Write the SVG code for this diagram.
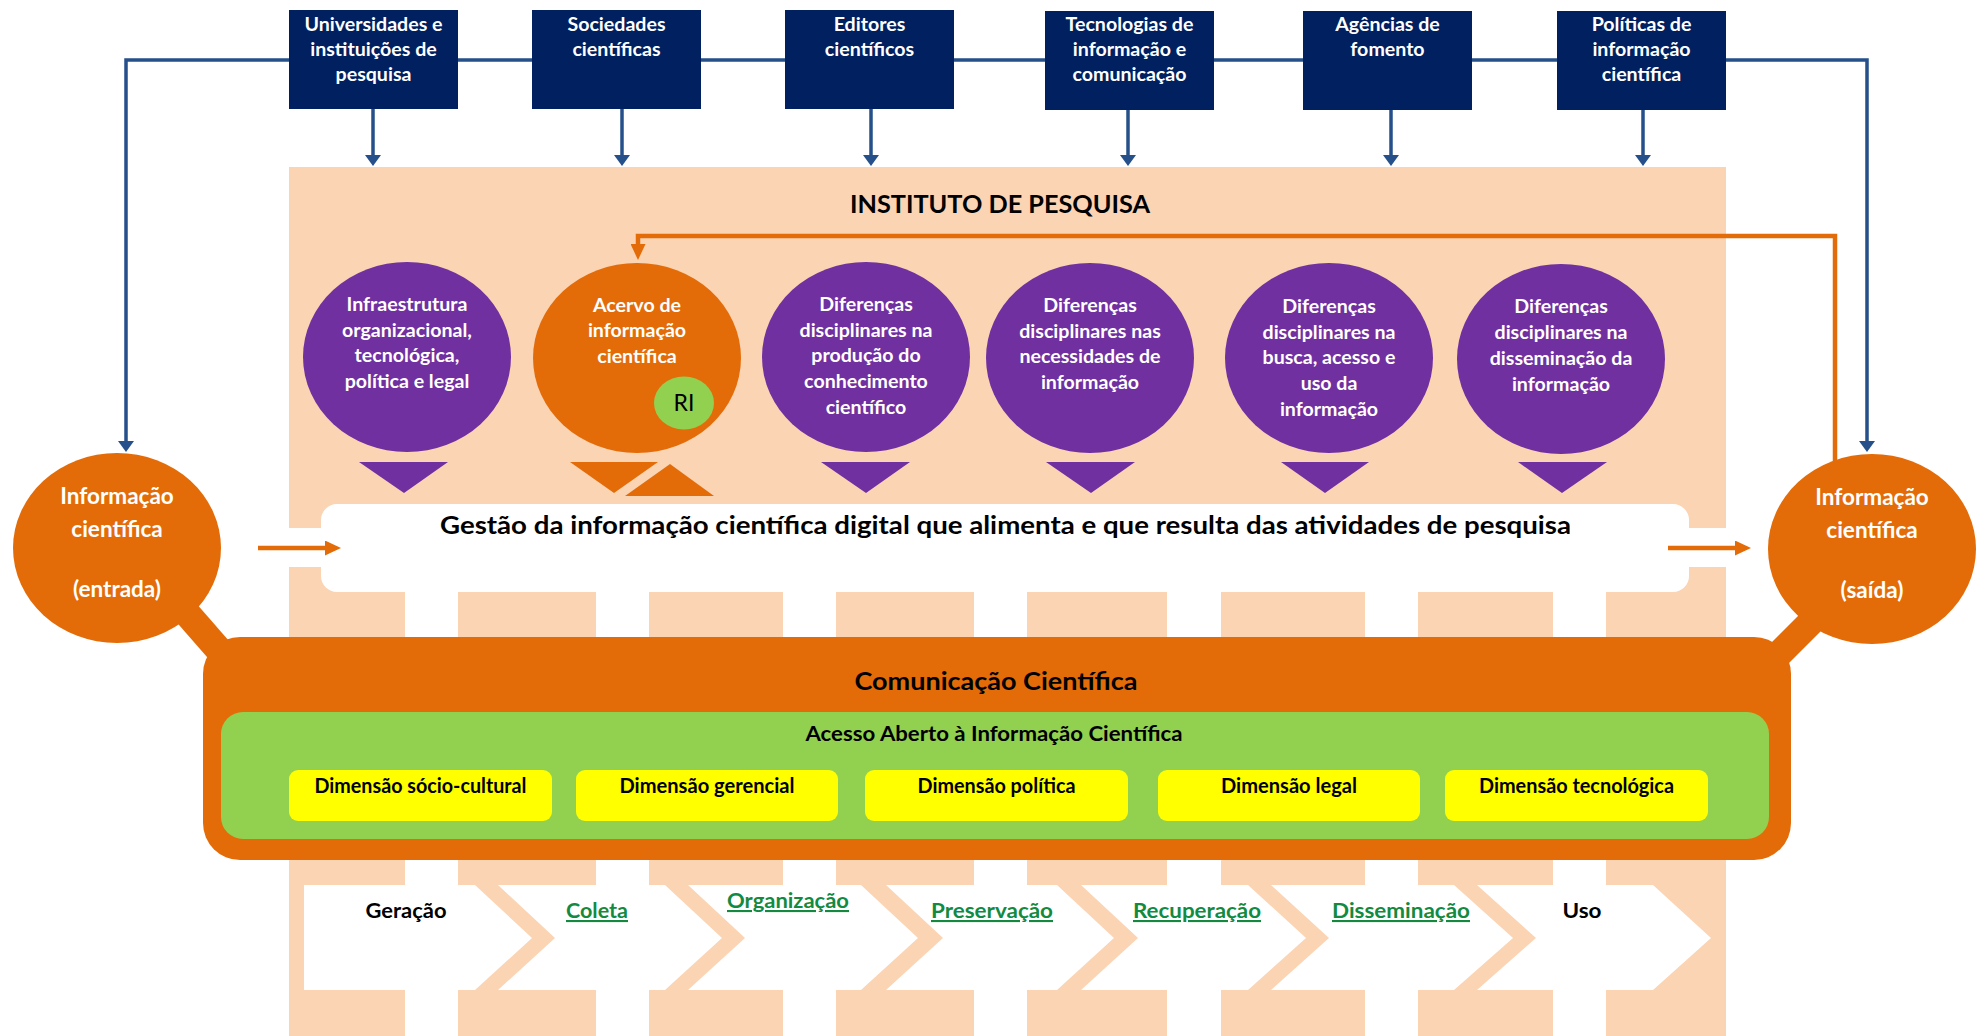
<svg xmlns="http://www.w3.org/2000/svg" width="1977" height="1036" viewBox="0 0 1977 1036">
<defs>
<style>
text{font-family:Lato,'Liberation Sans',sans-serif;font-weight:700;text-anchor:middle}
.peach{fill:#FBD4B4}
.navyBox{fill:#002060}
.purple{fill:#7030A0}
.orange{fill:#E36C09}
.wtxt{fill:#fff;font-size:19.6px}
.btxt{fill:#000}
.nav{fill:none;stroke:#25508A;stroke-width:3.5}
.org{fill:none;stroke:#E36C09;stroke-width:4.5}
.stem{fill:none;stroke:#E36C09;stroke-width:27}
.dim{fill:#FFFF00}
.dtxt{fill:#000;font-size:20px}
.step{fill:#000;font-size:21px}
.link{fill:#138A3F;font-size:21px;text-decoration:underline}
</style>
<marker id="navArrow" viewBox="0 0 11 16" markerWidth="11" markerHeight="16" refX="5" refY="8" orient="auto-start-reverse" markerUnits="userSpaceOnUse">
<path d="M0,0 L11,8 L0,16 z" fill="#25508A"/>
</marker>
<marker id="orgArrow" viewBox="0 0 16 15" markerWidth="16" markerHeight="15" refX="10" refY="7.5" orient="auto" markerUnits="userSpaceOnUse">
<path d="M0,0 L16,7.5 L0,15 z" fill="#E36C09"/>
</marker>
</defs>
<rect width="1977" height="1036" fill="#fff"/>

<g id="instituto">
<rect class="peach" x="289" y="167" width="1437" height="869"/>
<g fill="#fff">
<rect x="405" y="592" width="53" height="444"/>
<rect x="596" y="592" width="53" height="444"/>
<rect x="783" y="592" width="53" height="444"/>
<rect x="974" y="592" width="53" height="444"/>
<rect x="1167" y="592" width="54" height="444"/>
<rect x="1365" y="592" width="53" height="444"/>
<rect x="1553" y="592" width="53" height="444"/>
<rect x="285" y="528" width="40" height="39"/>
<rect x="1685" y="528" width="45" height="39"/>
</g>
<text x="1000" y="213" class="btxt" style="font-size:25px" textLength="300" lengthAdjust="spacingAndGlyphs">INSTITUTO DE PESQUISA</text>
</g>

<g id="ciclo">
<polygon points="304,885 1653,885 1711,938 1653,990 304,990" fill="#fff"/>
<g class="peach">
<polygon points="475,885 498,885 555,938 498,990 475,990 532,938"/>
<polygon points="665,885 688,885 745,938 688,990 665,990 722,938"/>
<polygon points="861,885 886,885 943,938 886,990 861,990 918,938"/>
<polygon points="1057,885 1081,885 1138,938 1081,990 1057,990 1114,938"/>
<polygon points="1248,885 1271,885 1329,938 1271,990 1248,990 1306,938"/>
<polygon points="1454,885 1477,885 1536,938 1477,990 1454,990 1513,938"/>
</g>
<text x="406" y="918" class="step" textLength="81" lengthAdjust="spacingAndGlyphs">Geração</text>
<text x="597" y="918" class="link" textLength="62" lengthAdjust="spacingAndGlyphs">Coleta</text>
<text x="788" y="908" class="link" textLength="122" lengthAdjust="spacingAndGlyphs">Organização</text>
<text x="992" y="918" class="link" textLength="122" lengthAdjust="spacingAndGlyphs">Preservação</text>
<text x="1197" y="918" class="link" textLength="128" lengthAdjust="spacingAndGlyphs">Recuperação</text>
<text x="1401" y="918" class="link" textLength="138" lengthAdjust="spacingAndGlyphs">Disseminação</text>
<text x="1582" y="918" class="step" textLength="39" lengthAdjust="spacingAndGlyphs">Uso</text>
</g>

<g id="gestao">
<rect x="321" y="504" width="1368" height="88" rx="16" fill="#fff"/>
<text x="1005.5" y="534" class="btxt" style="font-size:24.5px" textLength="1131" lengthAdjust="spacingAndGlyphs">Gestão da informação científica digital que alimenta e que resulta das atividades de pesquisa</text>
</g>

<g id="infraestrutura">
<ellipse class="purple" cx="407" cy="357" rx="104" ry="95"/>
<polygon class="purple" points="359,462 448,462 404,493"/>
<text class="wtxt"><tspan x="407" y="311">Infraestrutura</tspan><tspan x="407" y="337">organizacional,</tspan><tspan x="407" y="362">tecnológica,</tspan><tspan x="407" y="388">política e legal</tspan></text>
</g>

<g id="acervo">
<ellipse class="orange" cx="637" cy="358" rx="104" ry="95"/>
<polygon class="orange" points="570,462 658,462 614,493"/>
<polygon class="orange" points="625,496 714,496 670,464"/>
<text class="wtxt"><tspan x="637" y="312">Acervo de</tspan><tspan x="637" y="337">informação</tspan><tspan x="637" y="363">científica</tspan></text>
<g id="ri">
<ellipse cx="684" cy="403" rx="30" ry="26.5" fill="#92D050"/>
<text x="684" y="411" style="font-size:23px;font-weight:400;fill:#000">RI</text>
</g>
</g>

<g id="producao">
<ellipse class="purple" cx="866" cy="357" rx="104" ry="95"/>
<polygon class="purple" points="821,462 910,462 866,493"/>
<text class="wtxt"><tspan x="866" y="311">Diferenças</tspan><tspan x="866" y="337">disciplinares na</tspan><tspan x="866" y="362">produção do</tspan><tspan x="866" y="388">conhecimento</tspan><tspan x="866" y="414">científico</tspan></text>
</g>

<g id="necessidades">
<ellipse class="purple" cx="1090" cy="358" rx="104" ry="95"/>
<polygon class="purple" points="1046,462 1135,462 1091,493"/>
<text class="wtxt"><tspan x="1090" y="312">Diferenças</tspan><tspan x="1090" y="338">disciplinares nas</tspan><tspan x="1090" y="363">necessidades de</tspan><tspan x="1090" y="389">informação</tspan></text>
</g>

<g id="busca">
<ellipse class="purple" cx="1329" cy="358" rx="104" ry="95"/>
<polygon class="purple" points="1281,462 1369,462 1325,493"/>
<text class="wtxt"><tspan x="1329" y="313">Diferenças</tspan><tspan x="1329" y="339">disciplinares na</tspan><tspan x="1329" y="364">busca, acesso e</tspan><tspan x="1329" y="390">uso da</tspan><tspan x="1329" y="416">informação</tspan></text>
</g>

<g id="disseminacao">
<ellipse class="purple" cx="1561" cy="359" rx="104" ry="95"/>
<polygon class="purple" points="1518,462 1607,462 1562,493"/>
<text class="wtxt"><tspan x="1561" y="313">Diferenças</tspan><tspan x="1561" y="339">disciplinares na</tspan><tspan x="1561" y="365">disseminação da</tspan><tspan x="1561" y="391">informação</tspan></text>
</g>

<g id="connectors">
<path class="nav" d="M126,446 V60 H1867 V446" marker-start="url(#navArrow)" marker-end="url(#navArrow)"/>
<path class="nav" d="M373,109 V160" marker-end="url(#navArrow)"/>
<path class="nav" d="M622,109 V160" marker-end="url(#navArrow)"/>
<path class="nav" d="M871,109 V160" marker-end="url(#navArrow)"/>
<path class="nav" d="M1128,109 V160" marker-end="url(#navArrow)"/>
<path class="nav" d="M1391,109 V160" marker-end="url(#navArrow)"/>
<path class="nav" d="M1643,109 V160" marker-end="url(#navArrow)"/>
<path class="org" d="M1835,462 V236 H638 V254" marker-end="url(#orgArrow)"/>
<path class="org" d="M258,548 H335" marker-end="url(#orgArrow)"/>
<path class="org" d="M1668,548 H1745" marker-end="url(#orgArrow)"/>
<path class="stem" d="M170,594 L232,665"/>
<path class="stem" d="M1832,601 L1762,671"/>
</g>

<g id="universidades">
<rect class="navyBox" x="289" y="10" width="169" height="99"/>
<text class="wtxt"><tspan x="373.5" y="31">Universidades e</tspan><tspan x="373.5" y="56">instituições de</tspan><tspan x="373.5" y="81">pesquisa</tspan></text>
</g>
<g id="sociedades">
<rect class="navyBox" x="532" y="10" width="169" height="99"/>
<text class="wtxt"><tspan x="616.5" y="31">Sociedades</tspan><tspan x="616.5" y="56">científicas</tspan></text>
</g>
<g id="editores">
<rect class="navyBox" x="785" y="10" width="169" height="99"/>
<text class="wtxt"><tspan x="869.5" y="31">Editores</tspan><tspan x="869.5" y="56">científicos</tspan></text>
</g>
<g id="tecnologias">
<rect class="navyBox" x="1045" y="11" width="169" height="99"/>
<text class="wtxt"><tspan x="1129.5" y="31">Tecnologias de</tspan><tspan x="1129.5" y="56">informação e</tspan><tspan x="1129.5" y="81">comunicação</tspan></text>
</g>
<g id="agencias">
<rect class="navyBox" x="1303" y="11" width="169" height="99"/>
<text class="wtxt"><tspan x="1387.5" y="31">Agências de</tspan><tspan x="1387.5" y="56">fomento</tspan></text>
</g>
<g id="politicas">
<rect class="navyBox" x="1557" y="11" width="169" height="99"/>
<text class="wtxt"><tspan x="1641.5" y="31">Políticas de</tspan><tspan x="1641.5" y="56">informação</tspan><tspan x="1641.5" y="81">científica</tspan></text>
</g>

<g id="entrada">
<ellipse class="orange" cx="117" cy="548" rx="104" ry="95"/>
<text class="wtxt" style="font-size:22.5px"><tspan x="117" y="504">Informação</tspan><tspan x="117" y="537">científica</tspan><tspan x="117" y="597">(entrada)</tspan></text>
</g>
<g id="saida">
<ellipse class="orange" cx="1872" cy="549" rx="104" ry="95"/>
<text class="wtxt" style="font-size:22.5px"><tspan x="1872" y="505">Informação</tspan><tspan x="1872" y="538">científica</tspan><tspan x="1872" y="598">(saída)</tspan></text>
</g>

<g id="comunicacao">
<rect class="orange" x="203" y="637" width="1588" height="223" rx="37"/>
<text x="996" y="690" class="btxt" style="font-size:25px" textLength="283" lengthAdjust="spacingAndGlyphs">Comunicação Científica</text>
<g id="acesso-aberto">
<rect x="221" y="712" width="1548" height="127" rx="22" fill="#92D050"/>
<text x="994" y="741" class="btxt" style="font-size:21px" textLength="377" lengthAdjust="spacingAndGlyphs">Acesso Aberto à Informação Científica</text>
<g id="dim-socio"><rect class="dim" x="289" y="770" width="263" height="51" rx="9"/><text x="420.5" y="793" class="dtxt" textLength="212" lengthAdjust="spacingAndGlyphs">Dimensão sócio-cultural</text></g>
<g id="dim-gerencial"><rect class="dim" x="576" y="770" width="262" height="51" rx="9"/><text x="707" y="793" class="dtxt" textLength="175" lengthAdjust="spacingAndGlyphs">Dimensão gerencial</text></g>
<g id="dim-politica"><rect class="dim" x="865" y="770" width="263" height="51" rx="9"/><text x="996.5" y="793" class="dtxt" textLength="158" lengthAdjust="spacingAndGlyphs">Dimensão política</text></g>
<g id="dim-legal"><rect class="dim" x="1158" y="770" width="262" height="51" rx="9"/><text x="1289" y="793" class="dtxt" textLength="136" lengthAdjust="spacingAndGlyphs">Dimensão legal</text></g>
<g id="dim-tecnologica"><rect class="dim" x="1445" y="770" width="263" height="51" rx="9"/><text x="1576.5" y="793" class="dtxt" textLength="195" lengthAdjust="spacingAndGlyphs">Dimensão tecnológica</text></g>
</g>
</g>
</svg>
